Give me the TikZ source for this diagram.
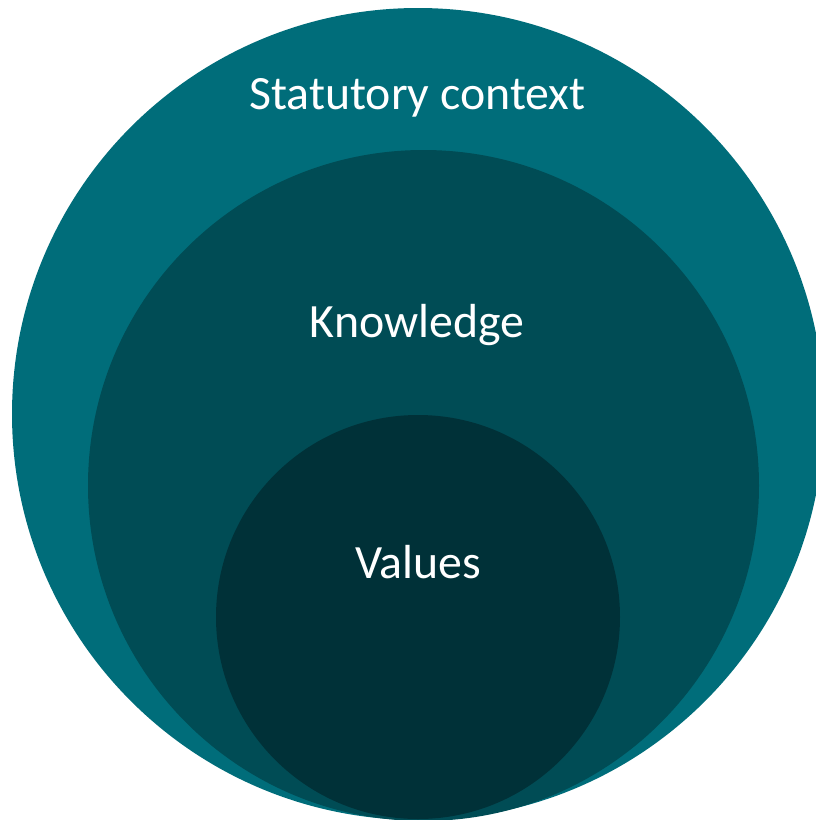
\documentclass[tikz,border=0pt]{standalone}
\usepackage{fontspec}
\setmainfont{Carlito}
\definecolor{outerc}{HTML}{006D7A}
\definecolor{midc}{HTML}{004C55}
\definecolor{innerc}{HTML}{003138}
\begin{document}
\begin{tikzpicture}[x=1pt,y=-1pt,
  ring/.style={circle,inner sep=0pt,minimum size=#1},
  lbl/.style={text=white,font=\fontsize{47.8}{56}\selectfont,anchor=base,inner sep=0pt}]
\useasboundingbox (0,0) rectangle (815,820);
\node[ring=812pt,fill=outerc] (outer) at (418,414) {};
\node[ring=671pt,fill=midc] (mid) at (423.5,485.5) {};
\node[ring=404pt,fill=innerc] (inner) at (418,617) {};
\node[lbl] (t1) at (417.5,109) {Statutory context};
\node[lbl] (t2) at (417,337) {Knowledge};
\node[lbl] (t3) at (418,578) {Values};
\end{tikzpicture}
\end{document}
